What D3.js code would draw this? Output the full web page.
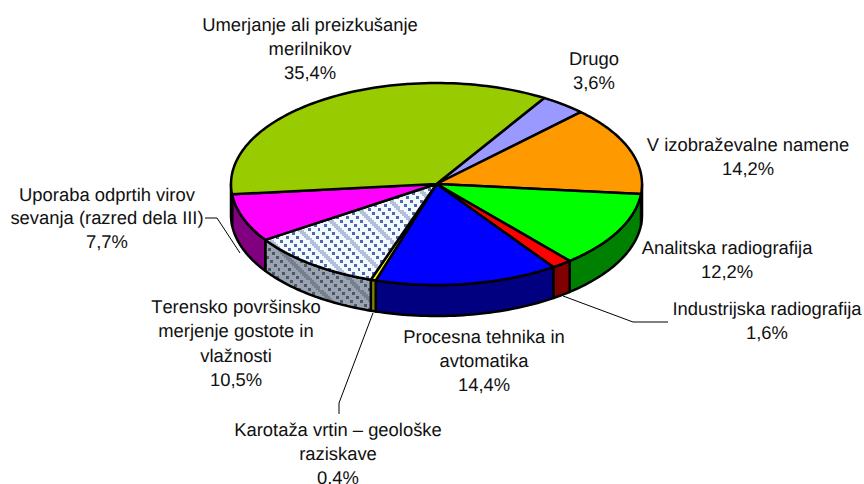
<!DOCTYPE html>
<html><head><meta charset="utf-8">
<style>html,body{margin:0;background:#fff}svg{display:block}text{font-family:"Liberation Sans",Arial,sans-serif;font-size:18.4px;fill:#111;font-kerning:none;text-rendering:geometricPrecision}</style>
<script src="https://cdn.jsdelivr.net/npm/d3@7"></script></head><body>
<script>
const categories=["Drugo","V izobraževalne namene","Analitska radiografija","Industrijska radiografija","Procesna tehnika in avtomatika","Karotaža vrtin – geološke raziskave","Terensko površinsko merjenje gostote in vlažnosti","Uporaba odprtih virov sevanja (razred dela III)","Umerjanje ali preizkušanje merilnikov"];
const values=[3.6,14.2,12.2,1.6,14.4,0.4,10.5,7.7,35.4];
const topColors=["#9999ff","#ff9900","#00ff00","#ff0000","#0000ff","#ffff00","url(#hatchTop)","#ff00ff","#99cc00"];
const sideColors=["#4d4d80","#804d00","#008000","#800000","#000080","#808000","url(#hatchSide)","#800080","#4d6600"];
const labelLines=[["Drugo","3,6%"],["V izobraževalne namene","14,2%"],["Analitska radiografija","12,2%"],["Industrijska radiografija","1,6%"],["Procesna tehnika in","avtomatika","14,4%"],["Karotaža vrtin – geološke","raziskave","0,4%"],["Terensko površinsko","merjenje gostote in","vlažnosti","10,5%"],["Uporaba odprtih virov","sevanja (razred dela III)","7,7%"],["Umerjanje ali preizkušanje","merilnikov","35,4%"]];
const labelX=[594,748,727,767,484,338,236,107,310];
const labelY=[65,151,254,315,343,436,312.7,200.5,31];
const labelStep=[23.8,23.8,23.8,23.8,23.8,23.8,24.4,23.8,23.8];
const leaders=[null,null,null,[[563,296],[633,322],[668,322]],null,[[373,313],[339,403],[339,414]],null,[[205,218],[217,218],[240,253]],null];

const W=864,H=484,cx=436.5,cy=184,rx=205.5,ry=101,depth=31;
const svg=d3.select("body").append("svg").attr("width",W).attr("height",H);
const defs=svg.append("defs");
function hatch(id,bg,dark,soft){
  const p=defs.append("pattern").attr("id",id).attr("patternUnits","userSpaceOnUse").attr("width",40).attr("height",40);
  p.append("rect").attr("width",40).attr("height",40).attr("fill",bg);
  d3.range(20).forEach(i=>p.append("rect").attr("x",(2*i+30)%40).attr("y",2*i).attr("width",4).attr("height",4).attr("fill",soft));
  d3.range(10).forEach(i=>{
    [0,10,20].forEach(o=>p.append("rect").attr("x",(4*i+o)%40).attr("y",4*i).attr("width",3).attr("height",3).attr("fill",dark));
  });
}
hatch("hatchTop","#f2faff","#5068ae","#b4bfdc");
hatch("hatchSide","#9aa3ae","#49566f","#747f92");

const startAngle=31.6*Math.PI/180;
const pie=d3.pie().value(d=>d).sort(null).startAngle(startAngle).endAngle(startAngle+2*Math.PI);
const arcs=pie(values);
const xS=d3.scaleLinear().domain([-1,1]).range([cx-rx,cx+rx]);
const yS=d3.scaleLinear().domain([-1,1]).range([cy-ry,cy+ry]);
const pt=(a,off=0)=>[xS(Math.sin(a)),yS(-Math.cos(a))+off];
const line=d3.line();
const stroke="#000",sw=2.5;

leaders.forEach(l=>{ if(l) svg.append("path").attr("d",line(l)).attr("fill","none").attr("stroke","#000").attr("stroke-width",1);});

const sidesG=svg.append("g");
arcs.forEach((d,i)=>{
  let a0=d.startAngle,a1=d.endAngle;
  const lo=Math.PI/2,hi=3*Math.PI/2;
  a0=Math.max(a0,lo);a1=Math.min(a1,hi);
  if(a1<=a0) return;
  const as=d3.range(0,41).map(k=>a0+(a1-a0)*k/40);
  const pts=as.map(a=>pt(a)).concat(as.slice().reverse().map(a=>pt(a,depth)));
  sidesG.append("path").attr("d",line(pts)+"Z").attr("fill",sideColors[i]).attr("stroke",stroke).attr("stroke-width",sw).attr("stroke-linejoin","round");
});

const topG=svg.append("g");
arcs.forEach((d,i)=>{
  const as=d3.range(0,81).map(k=>d.startAngle+(d.endAngle-d.startAngle)*k/80);
  const pts=[[cx,cy]].concat(as.map(a=>pt(a)));
  topG.append("path").attr("d",line(pts)+"Z").attr("fill",topColors[i]).attr("stroke",stroke).attr("stroke-width",sw).attr("stroke-linejoin","round");
});

labelLines.forEach((ls,i)=>{
  const t=svg.append("text").attr("text-anchor","middle");
  ls.forEach((s,k)=>t.append("tspan").attr("x",labelX[i]).attr("y",labelY[i]+k*labelStep[i]).text(s));
});
</script></body></html>
